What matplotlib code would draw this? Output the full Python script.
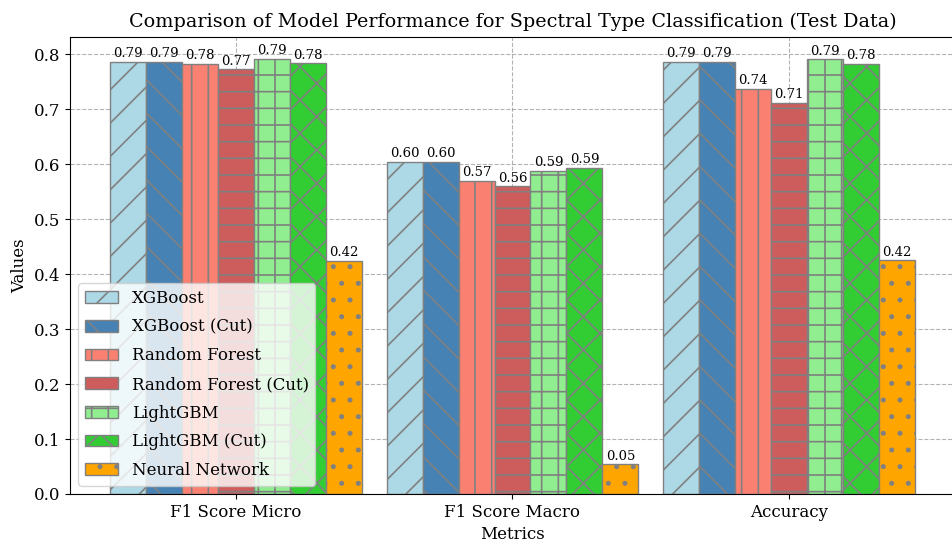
import matplotlib
matplotlib.use("Agg")
import matplotlib.pyplot as plt
import numpy as np

plt.rcParams['font.family'] = ['DejaVu Serif']
plt.rcParams['hatch.linewidth'] = 1.2

metrics = ["F1 Score Micro", "F1 Score Macro", "Accuracy"]
models = ["XGBoost", "XGBoost (Cut)", "Random Forest", "Random Forest (Cut)",
          "LightGBM", "LightGBM (Cut)", "Neural Network"]

xgboost = [0.787, 0.605, 0.787]
xgboost_cut = [0.786, 0.604, 0.786]
random_forest = [0.783, 0.570, 0.737]
random_forest_cut = [0.773, 0.560, 0.712]
lightgbm = [0.792, 0.588, 0.791]
lightgbm_cut = [0.784, 0.593, 0.783]
neural_network = [0.424, 0.054, 0.425]

series = [xgboost, xgboost_cut, random_forest, random_forest_cut,
          lightgbm, lightgbm_cut, neural_network]
colors = ["#add8e6", "#4682b4", "#fa8072", "#cd5c5c", "#90ee90", "#32cd32", "#ffa500"]
hatches = ["/", "\\", "|", "-", "+", "x", "."]

fig = plt.figure(figsize=(9.52, 5.49), dpi=100)
ax = fig.add_axes([70 / 952, 1 - 494 / 549, 885 / 952, (494 - 37) / 549])

x = np.arange(len(metrics))
width = 0.13
for j, (name, vals) in enumerate(zip(models, series)):
    pos = x + (j - 3) * width
    bars = ax.bar(pos, vals, width, label=name, color=colors[j],
                  edgecolor="gray", hatch=hatches[j], linewidth=1)
    for b, v in zip(bars, vals):
        ax.text(b.get_x() + b.get_width() / 2, v + 0.003, f"{v:.2f}",
                ha="center", va="bottom", fontsize=9.5)

ax.set_xticks(x)
ax.set_xticklabels(metrics, fontsize=12)
ax.tick_params(axis="y", labelsize=12)
ax.set_xlabel("Metrics", fontsize=12)
ax.set_ylabel("Values", fontsize=12)
ax.set_title("Comparison of Model Performance for Spectral Type Classification (Test Data)",
             fontsize=13.8, pad=7)
ax.set_axisbelow(True)
ax.grid(True, linestyle="--", color="gray", alpha=0.6)
ax.legend(loc="lower left", fontsize=12, labelspacing=0.7)

fig.savefig("out.png", dpi=100)
